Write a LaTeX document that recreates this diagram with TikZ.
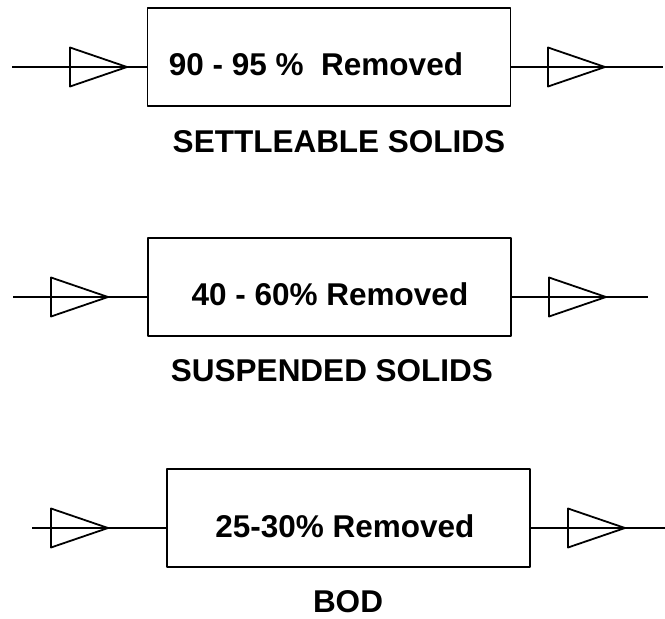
\documentclass[tikz,border=0pt]{standalone}
\usepackage{fontspec}
\setmainfont{Liberation Sans}
\begin{document}
\begin{tikzpicture}[x=1pt,y=-1pt,line width=1.8pt,line join=round,
    procbox/.style={draw,rectangle,minimum width=363pt,minimum height=98pt,inner sep=0pt},
    boxtxt/.style={anchor=base,inner sep=0pt,font=\bfseries\fontsize{31.5}{36}\selectfont},
    flowtri/.pic={\draw (0,-19.5) -- (57,0) -- (0,19.5) -- cycle;}]
  \useasboundingbox (0,0) rectangle (665,619);
  % settleable solids
  \node[procbox] (box1) at (329,57) {};
  \node[boxtxt] (txt1) at (316,75) {90 - 95 \%~~Removed};
  \node[boxtxt] (lab1) at (339,152) {SETTLEABLE SOLIDS};
  \coordinate (in1) at (12,67);
  \coordinate (out1) at (663,67);
  \draw (in1) -- (in1 -| box1.west);
  \draw (box1.east |- out1) -- (out1);
  \pic at (70,67) {flowtri};
  \pic at (548,67) {flowtri};
  % suspended solids
  \node[procbox] (box2) at (329.5,287) {};
  \node[boxtxt] (txt2) at (330,305) {40 - 60\% Removed};
  \node[boxtxt] (lab2) at (332,381) {SUSPENDED SOLIDS};
  \coordinate (in2) at (13,297);
  \coordinate (out2) at (648,297);
  \draw (in2) -- (in2 -| box2.west);
  \draw (box2.east |- out2) -- (out2);
  \pic at (51,297) {flowtri};
  \pic at (549,297) {flowtri};
  % bod
  \node[procbox] (box3) at (348.5,518) {};
  \node[boxtxt] (txt3) at (345,537) {25-30\% Removed};
  \node[boxtxt] (lab3) at (348,612) {BOD};
  \coordinate (in3) at (32,528);
  \coordinate (out3) at (665,528);
  \draw (in3) -- (in3 -| box3.west);
  \draw (box3.east |- out3) -- (out3);
  \pic at (51,528) {flowtri};
  \pic at (568,528) {flowtri};
\end{tikzpicture}
\end{document}
